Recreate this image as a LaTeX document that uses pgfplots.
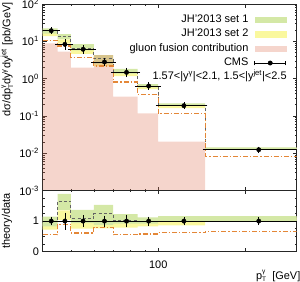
\documentclass[border=0pt]{standalone}
\usepackage{pgfplots}
\pgfplotsset{compat=1.18}
\usepackage{fontspec}
\setmainfont{Liberation Sans}
\definecolor{gset1}{RGB}{212,232,166}
\definecolor{yset2}{RGB}{250,248,158}
\definecolor{pinkg}{RGB}{222,115,85}
\definecolor{pinkl}{RGB}{245,213,204}
\definecolor{orangel}{RGB}{228,135,55}
\definecolor{grayd}{RGB}{100,100,100}
\newcommand{\pTg}{p\makebox[0pt][l]{\raisebox{5.4bp}{\fontsize{6.5}{7}\selectfont γ}}\raisebox{-2.8bp}{\fontsize{6.5}{7}\selectfont T}}
\begin{document}
\fontsize{11}{13}\selectfont
\begin{tikzpicture}[x=1bp,y=1bp]
\useasboundingbox (0,0) rectangle (300,282);
% ---------------- main panel ----------------
\begin{axis}[scale only axis, width=254bp, height=186.5bp,
  at={(42.7bp,91.5bp)}, anchor=south west,
  xmode=log, xmin=40, xmax=300,
  ymode=log, ymin=1e-3, ymax=1e2,
  axis line style={line width=0.6bp, black!85},
  major tick style={line width=0.5bp, black!85},
  minor tick style={line width=0.5bp, black!85},
  major tick length=4bp, minor tick length=2bp,
  xtick={100,200}, minor xtick={50,60,70,80,90},
  tick align=inside,
  ticklabel style={font=\fontsize{11}{13}\selectfont},
  xticklabels={},
  ytick={1e-3,1e-2,1e-1,1,10,100},
  yticklabels={10\textsuperscript{-3},10\textsuperscript{-2},10\textsuperscript{-1},10\textsuperscript{0},10\textsuperscript{1},10\textsuperscript{2}},
  minor ytick={2e-3,3e-3,4e-3,5e-3,6e-3,7e-3,8e-3,9e-3,2e-2,3e-2,4e-2,5e-2,6e-2,7e-2,8e-2,9e-2,0.2,0.3,0.4,0.5,0.6,0.7,0.8,0.9,2,3,4,5,6,7,8,9,20,30,40,50,60,70,80,90},
  legend style={at={(0.958,0.945)}, anchor=north east, draw=none, fill=none,
    inner sep=0pt, outer sep=0pt, row sep=3.9bp, column sep=6bp,
    font=\fontsize{11}{13}\selectfont,
    nodes={inner sep=0pt, outer sep=0pt, text height=8bp, text depth=2.5bp}},
  legend cell align=right, legend plot pos=right,
]
% set 2 band
\addplot[fill=yset2, draw=none, forget plot] coordinates {
(40,18.24)(45,18.24)(45,11.2)(50,11.2)(50,5.80)(60,5.80)(60,2.79)(70,2.79)(70,1.47)(85,1.47)(85,0.634)(100,0.634)(100,0.1918)(145,0.1918)(145,0.0139)(300,0.0139)
(300,0.0124)(145,0.0124)(145,0.1617)(100,0.1617)(100,0.526)(85,0.526)(85,1.16)(70,1.16)(70,2.12)(60,2.12)(60,4.58)(50,4.58)(50,8.63)(45,8.63)(45,13.82)(40,13.82)} -- cycle;
% set 1 band
\addplot[fill=gset1, draw=none, forget plot] coordinates {
(40,22.08)(45,22.08)(45,15.69)(50,15.69)(50,8.36)(60,8.36)(60,4.27)(70,4.27)(70,1.81)(85,1.81)(85,0.710)(100,0.710)(100,0.2181)(145,0.2181)(145,0.01438)(300,0.01438)
(300,0.01228)(145,0.01228)(145,0.1861)(100,0.1861)(100,0.583)(85,0.583)(85,1.352)(70,1.352)(70,2.45)(60,2.45)(60,5.68)(50,5.68)(50,11.37)(45,11.37)(45,15.94)(40,15.94)} -- cycle;
% gluon fusion
\addplot[fill=pinkg, fill opacity=0.3, draw=none, forget plot] coordinates {
(40,0.001)(40,8.8)(45,8.8)(45,5.27)(50,5.27)(50,1.96)(60,1.96)(60,4.27)(70,4.27)(70,0.327)(85,0.327)(85,0.117)(100,0.117)(100,0.0204)(145,0.0204)(145,0.001)} -- cycle;
% lines
\addplot[const plot, grayd, line width=0.8bp, dash pattern=on 3bp off 2.2bp, forget plot] coordinates {(40,19.2)(45,13.7)(50,6.59)(60,3.46)(70,1.50)(85,0.634)(100,0.188)(145,0.0124)(300,0.0124)};
\addplot[const plot, orangel, line width=1.1bp, dash pattern=on 5bp off 2bp on 1.2bp off 2bp, forget plot] coordinates {(40,10.56)(45,7.47)(50,3.72)(60,2.18)(70,0.81)(85,0.368)(100,0.1166)(145,0.0083)(300,0.0083)};
% CMS data
\addplot[only marks, black, mark=*, mark size=2.2bp, forget plot,
    error bars/.cd, x dir=both, x explicit, y dir=both, y explicit,
    error bar style={line width=0.6bp, black},
    error mark options={mark size=2.4bp, line width=0.6bp}] coordinates {
(42.8,19.2) += (2.2,1.15) -= (2.8,1.15)
(47.7,8.3) += (2.3,1.6) -= (2.7,1.6)
(55.1,6.1) += (4.9,0.73) -= (5.1,0.73)
(65.3,2.79) += (4.7,0.28) -= (5.3,0.28)
(77.8,1.47) += (7.2,0.19) -= (7.8,0.19)
(92.7,0.634) += (7.3,0.044) -= (7.7,0.044)
(122.6,0.188) += (22.4,0.0094) -= (22.6,0.0094)
(222,0.0124) += (78,0.0006) -= (77,0.0006)
};
\addlegendimage{legend image code/.code={\fill[gset1] (0bp,-3.1bp) rectangle (31bp,2.5bp);}}
\addlegendentry{JH'2013 set 1}
\addlegendimage{legend image code/.code={\fill[yset2] (0bp,-3.1bp) rectangle (31bp,2.5bp);}}
\addlegendentry{JH'2013 set 2}
\addlegendimage{legend image code/.code={\fill[pinkl] (0bp,-3.1bp) rectangle (31bp,2.5bp);}}
\addlegendentry{gluon fusion contribution}
\addlegendimage{legend image code/.code={
  \draw[black, line width=0.6bp] (0bp,-0.3bp) -- (31bp,-0.3bp);
  \draw[black, line width=0.6bp] (0bp,-2.7bp) -- (0bp,2.1bp);
  \draw[black, line width=0.6bp] (31bp,-2.7bp) -- (31bp,2.1bp);
  \fill[black] (15.5bp,-0.3bp) circle (2.2bp);}}
\addlegendentry{CMS}
\node[anchor=east, inner sep=0pt, font=\fontsize{11}{13}\selectfont] at (rel axis cs:0.961,0.614) {1.57<|y\textsuperscript{γ}|<2.1, 1.5<|y\textsuperscript{jet}|<2.5};
\end{axis}
% ---------------- ratio panel ----------------
\begin{axis}[scale only axis, width=254bp, height=61.2bp,
  at={(42.7bp,30.3bp)}, anchor=south west,
  xmode=log, xmin=40, xmax=300,
  ymin=0, ymax=2,
  axis line style={line width=0.6bp, black!85},
  major tick style={line width=0.5bp, black!85},
  minor tick style={line width=0.5bp, black!85},
  major tick length=4bp, minor tick length=2bp,
  xtick={100,200}, minor xtick={50,60,70,80,90},
  tick align=inside,
  ticklabel style={font=\fontsize{11}{13}\selectfont},
  ytick={0,1,2}, yticklabels={0,1,{}},
  minor ytick={0.25,0.5,0.75,1.25,1.5,1.75},
  xticklabels={100,{}},
  xticklabel style={yshift=-5bp},
]
\addplot[fill=yset2, draw=none, forget plot] coordinates {
(40,0.95)(45,0.95)(45,1.35)(50,1.35)(50,0.95)(60,0.95)(60,1.0)(70,1.0)(70,1.0)(85,1.0)(85,1.0)(100,1.0)(100,1.02)(145,1.02)(145,1.12)(300,1.12)
(300,1.0)(145,1.0)(145,0.86)(100,0.86)(100,0.83)(85,0.83)(85,0.79)(70,0.79)(70,0.76)(60,0.76)(60,0.75)(50,0.75)(50,1.04)(45,1.04)(45,0.72)(40,0.72)} -- cycle;
\addplot[fill=gset1, draw=none, forget plot] coordinates {
(40,1.15)(45,1.15)(45,1.89)(50,1.89)(50,1.37)(60,1.37)(60,1.53)(70,1.53)(70,1.23)(85,1.23)(85,1.12)(100,1.12)(100,1.16)(145,1.16)(145,1.16)(300,1.16)
(300,0.99)(145,0.99)(145,0.99)(100,0.99)(100,0.92)(85,0.92)(85,0.92)(70,0.92)(70,0.88)(60,0.88)(60,0.93)(50,0.93)(50,1.37)(45,1.37)(45,0.83)(40,0.83)} -- cycle;
\addplot[const plot, grayd, line width=0.8bp, dash pattern=on 3bp off 2.2bp, forget plot] coordinates {(40,1.0)(45,1.66)(50,1.08)(60,1.24)(70,1.02)(85,1.0)(100,1.0)(145,1.0)(300,1.0)};
\addplot[const plot, orangel, line width=1.1bp, dash pattern=on 5bp off 2bp on 1.2bp off 2bp, forget plot] coordinates {(40,0.55)(45,0.90)(50,0.61)(60,0.78)(70,0.55)(85,0.58)(100,0.62)(145,0.67)(300,0.67)};
\addplot[only marks, black, mark=*, mark size=2.2bp, forget plot,
    error bars/.cd, x dir=both, x explicit, y dir=both, y explicit,
    error bar style={line width=0.6bp, black},
    error mark options={mark size=2.4bp, line width=0.6bp}] coordinates {
(42.8,1) += (2.2,0.06) -= (2.8,0.06)
(47.7,1) += (2.3,0.2) -= (2.7,0.2)
(55.1,1) += (4.9,0.12) -= (5.1,0.12)
(65.3,1) += (4.7,0.10) -= (5.3,0.10)
(77.8,1) += (7.2,0.13) -= (7.8,0.13)
(92.7,1) += (7.3,0.07) -= (7.7,0.07)
(122.6,1) += (22.4,0.05) -= (22.6,0.05)
(222,1) += (78,0.05) -= (77,0.05)
};
\end{axis}
% axis titles
\node[rotate=90, anchor=east, inner sep=0pt, font=\fontsize{11}{13}\selectfont] at (7,280) {dσ/d\pTg dy\textsuperscript{γ}dy\textsuperscript{jet} [pb/GeV]};
\node[rotate=90, inner sep=0pt, font=\fontsize{11}{13}\selectfont] at (7,61) {theory/data};
\node[anchor=base east, inner sep=0pt, font=\fontsize{11}{13}\selectfont] at (300.5,3) {\pTg\ \ [GeV]};
\end{tikzpicture}
\end{document}
